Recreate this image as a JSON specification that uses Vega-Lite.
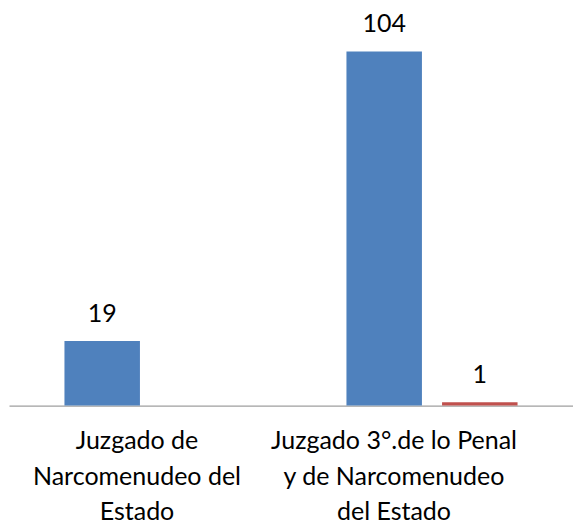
{
  "$schema": "https://vega.github.io/schema/vega-lite/v6.json",
  "autosize": {"type": "none"},
  "padding": {"left": 9, "top": 31, "right": 0, "bottom": 122},
  "width": 564,
  "height": 374.6,
  "background": "white",
  "config": {"view": {"stroke": null}, "font": "Lato"},
  "data": {
    "values": [
      {"category": "Juzgado de|Narcomenudeo del|Estado", "series": "A", "value": 19},
      {"category": "Juzgado 3°.de lo Penal|y de Narcomenudeo|del Estado", "series": "A", "value": 104},
      {"category": "Juzgado 3°.de lo Penal|y de Narcomenudeo|del Estado", "series": "B", "value": 1}
    ]
  },
  "encoding": {
    "x": {
      "field": "category",
      "type": "nominal",
      "sort": null,
      "scale": {"paddingInner": 0, "paddingOuter": 0},
      "axis": {
        "title": null,
        "labelAngle": 0,
        "ticks": false,
        "domainColor": "#868686",
        "domainWidth": 1,
        "labelExpr": "split(datum.value, '|')",
        "labelFontSize": 25,
        "labelLineHeight": 35.5,
        "labelColor": "#000000",
        "labelPadding": 23,
        "labelLimit": 0,
        "labelFont": "Lato",
        "labelOffset": {"condition": {"test": "datum.value == 'Juzgado de|Narcomenudeo del|Estado'", "value": -13}, "value": -38}
      }
    },
    "xOffset": {
      "field": "series",
      "type": "nominal",
      "scale": {"domain": ["A", "B"], "paddingInner": 0.2105, "paddingOuter": 0.58}
    },
    "y": {
      "field": "value",
      "type": "quantitative",
      "scale": {"domain": [0, 110], "nice": false},
      "axis": null
    }
  },
  "layer": [
    {
      "mark": {"type": "bar"},
      "encoding": {
        "color": {
          "field": "series",
          "type": "nominal",
          "scale": {"domain": ["A", "B"], "range": ["#4F81BD", "#C0504D"]},
          "legend": null
        }
      }
    },
    {
      "mark": {"type": "text", "baseline": "alphabetic", "dy": -19, "fontSize": 25, "color": "#000000", "font": "Lato"},
      "encoding": {"text": {"field": "value", "type": "quantitative"}}
    }
  ]
}
